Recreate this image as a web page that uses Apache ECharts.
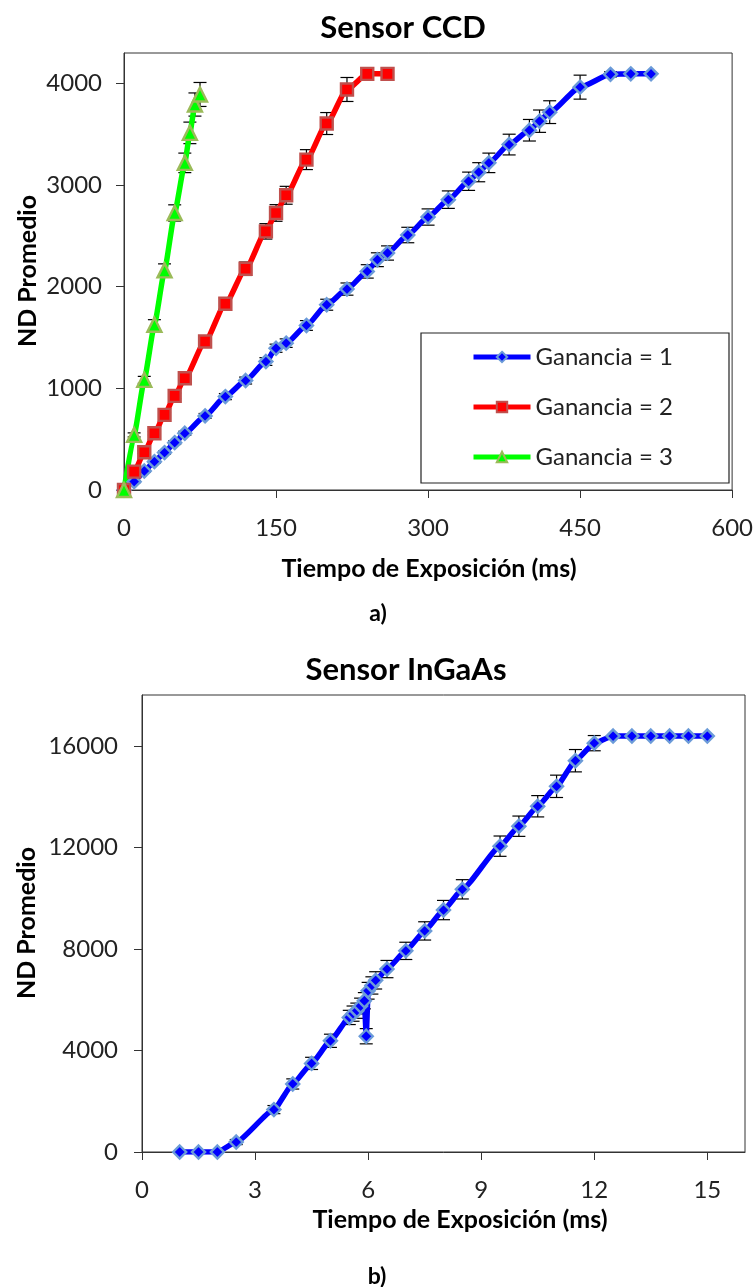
<!DOCTYPE html>
<html>
<head>
<meta charset="utf-8">
<script src="https://cdn.jsdelivr.net/npm/echarts/dist/echarts.min.js"></script>
<style>
html,body{margin:0;padding:0;background:#fff;}
#chart{width:756px;height:1287px;}
</style>
</head>
<body>
<div id="chart"></div>
<script>
// ---------- Sensor CCD data ----------
const ccdX1   = [0,10,20,30,40,50,60,80,100,120,140,150,160,180,200,220,240,250,260,280,300,320,340,350,360,380,400,410,420,450,480,500,520];
const ccdY1   = [0,82,187,279,368,466,558,729,919,1077,1264,1395,1445,1619,1823,1977,2151,2266,2332,2509,2686,2857,3038,3127,3219,3399,3540,3629,3718,3964,4090,4095,4095];
const ccdErr1 = [0,10,12,14,16,18,20,24,30,34,38,40,42,48,54,60,66,68,70,76,80,86,90,94,96,102,106,110,112,118,25,0,0];

const ccdX2   = [0,10,20,30,40,50,60,80,100,120,140,150,160,180,200,220,240,260];
const ccdY2   = [0,181,371,558,739,926,1100,1461,1833,2177,2545,2726,2900,3251,3606,3941,4095,4095];
const ccdErr2 = [0,8,12,18,22,28,34,44,56,66,76,82,88,98,108,118,10,0];

const ccdX3   = [0,10,20,30,40,50,60,65,70,75];
const ccdY3   = [0,542,1084,1626,2161,2726,3219,3514,3793,3892];
const ccdErr3 = [0,20,34,50,64,80,96,106,114,118];

const ccdXTicks = [0,150,300,450,600];
const ccdYTicks = [0,1000,2000,3000,4000];

// ---------- Sensor InGaAs data ----------
const ingX   = [1,1.5,2,2.5,3.5,4,4.5,5,5.5,5.6,5.7,5.8,5.9,5.95,6,6.1,6.2,6.5,7,7.5,8,8.5,9.5,10,10.5,11,11.5,12,12.5,13,13.5,14,14.5,15];
const ingY   = [0,0,0,392,1670,2680,3490,4380,5300,5450,5565,5750,5958,4560,6351,6560,6760,7205,7922,8708,9529,10346,12046,12832,13618,14403,15412,16103,16383,16383,16383,16383,16383,16383];
const ingErr = [0,0,0,100,160,200,240,260,280,300,300,310,320,300,330,340,340,340,340,360,380,380,400,400,420,440,440,300,0,0,0,0,0,0];

const ingXTicks = [0,3,6,9,12,15];
const ingYTicks = [0,4000,8000,12000,16000];

const seriesNames = ['Ganancia = 1','Ganancia = 2','Ganancia = 3'];

function zip(xs, ys){ return xs.map((x,i)=>[x, ys[i]]); }
function zip3(xs, ys, es){ return xs.map((x,i)=>[x, ys[i], es[i]]); }

const FONT = 'Lato, "Open Sans", "Noto Sans", sans-serif';
const TXT = '#222';

function errRender(params, api){
  const x = api.value(0), y = api.value(1), e = api.value(2);
  if (!e) return null;
  const t = api.coord([x, y + e]), b = api.coord([x, y - e]);
  const hw = 6.5;
  const st = {stroke:'#000', lineWidth:1.2};
  return {type:'group', children:[
    {type:'line', shape:{x1:t[0], y1:t[1], x2:b[0], y2:b[1]}, style:st},
    {type:'line', shape:{x1:t[0]-hw, y1:t[1], x2:t[0]+hw, y2:t[1]}, style:st},
    {type:'line', shape:{x1:b[0]-hw, y1:b[1], x2:b[0]+hw, y2:b[1]}, style:st}
  ]};
}

function plain(v){ return String(v); }

function axisCommon(){
  return {
    type:'value',
    axisLine:{show:true, onZero:false, lineStyle:{color:'#333', width:1}},
    axisTick:{show:true, inside:false, length:8, lineStyle:{color:'#333', width:1}},
    splitLine:{show:false},
    axisLabel:{fontSize:24, fontFamily:FONT, color:TXT, formatter:plain}
  };
}

const xA0 = Object.assign(axisCommon(), {gridIndex:0, min:0, max:600, interval:150});
xA0.axisLabel = Object.assign({}, xA0.axisLabel, {margin:26});
const yA0 = Object.assign(axisCommon(), {gridIndex:0, min:0, max:4300});
yA0.axisTick = Object.assign({}, yA0.axisTick, {customValues:ccdYTicks});
yA0.axisLabel = Object.assign({}, yA0.axisLabel, {margin:22, customValues:ccdYTicks});

const xA1 = Object.assign(axisCommon(), {gridIndex:1, min:0, max:16});
xA1.axisTick = Object.assign({}, xA1.axisTick, {customValues:ingXTicks});
xA1.axisLabel = Object.assign({}, xA1.axisLabel, {margin:26, customValues:ingXTicks});
const yA1 = Object.assign(axisCommon(), {gridIndex:1, min:0, max:18000});
yA1.axisTick = Object.assign({}, yA1.axisTick, {customValues:ingYTicks});
yA1.axisLabel = Object.assign({}, yA1.axisLabel, {margin:24, customValues:ingYTicks});

function lineSeries(name, data, color, symbol, size, border, xi, smooth){
  return {
    name:name, type:'line', xAxisIndex:xi, yAxisIndex:xi, data:data,
    smooth:smooth, smoothMonotone:'x',
    symbol:symbol, symbolSize:size, showAllSymbol:true,
    lineStyle:{color:color, width:5.5},
    itemStyle:{color:color, borderColor:border, borderWidth:2.4},
    emphasis:{disabled:true}, animation:false, z:2
  };
}
function errSeries(data, xi){
  return {
    type:'custom', xAxisIndex:xi, yAxisIndex:xi, data:data,
    encode:{x:0, y:1}, renderItem:errRender, z:1, animation:false, silent:true
  };
}

const option = {
  animation:false,
  backgroundColor:'#fff',
  grid:[
    {left:124, top:53, width:609, height:437, show:true, borderColor:'#333', borderWidth:1, backgroundColor:'transparent'},
    {left:142, top:695, width:603, height:457, show:true, borderColor:'#333', borderWidth:1, backgroundColor:'transparent'}
  ],
  xAxis:[xA0, xA1],
  yAxis:[yA0, yA1],
  legend:{
    data:seriesNames, orient:'vertical', left:471, top:345, padding:0,
    itemWidth:57, itemHeight:13, itemGap:26,
    lineStyle:{width:5},
    textStyle:{fontSize:24, fontFamily:FONT, color:TXT},
    selectedMode:false, z:10
  },
  graphic:[
    {type:'rect', shape:{x:421, y:333, width:308, height:150}, style:{fill:'#fff', stroke:'#222', lineWidth:1.2}, z:5, silent:true},
    {type:'text', x:403, y:28, style:{text:'Sensor CCD', font:'bold 31px '+FONT, fill:'#000', textAlign:'center', textVerticalAlign:'middle'}},
    {type:'text', x:28, y:271, rotation:Math.PI/2, style:{text:'ND Promedio', font:'bold 25px '+FONT, fill:'#000', textAlign:'center', textVerticalAlign:'middle'}},
    {type:'text', x:429, y:569, style:{text:'Tiempo de Exposición (ms)', font:'bold 25px '+FONT, fill:'#000', textAlign:'center', textVerticalAlign:'middle'}},
    {type:'text', x:378, y:614, style:{text:'a)', font:'bold 23px '+FONT, fill:'#000', textAlign:'center', textVerticalAlign:'middle'}},
    {type:'text', x:406, y:670, style:{text:'Sensor InGaAs', font:'bold 31px '+FONT, fill:'#000', textAlign:'center', textVerticalAlign:'middle'}},
    {type:'text', x:27, y:923, rotation:Math.PI/2, style:{text:'ND Promedio', font:'bold 25px '+FONT, fill:'#000', textAlign:'center', textVerticalAlign:'middle'}},
    {type:'text', x:460, y:1220, style:{text:'Tiempo de Exposición (ms)', font:'bold 25px '+FONT, fill:'#000', textAlign:'center', textVerticalAlign:'middle'}},
    {type:'text', x:377, y:1277, style:{text:'b)', font:'bold 23px '+FONT, fill:'#000', textAlign:'center', textVerticalAlign:'middle'}}
  ],
  series:[
    lineSeries(seriesNames[0], zip(ccdX1, ccdY1), '#0000ff', 'diamond', 13, '#6b9bd8', 0, 0.2),
    lineSeries(seriesNames[1], zip(ccdX2, ccdY2), '#ff0000', 'rect', 12, '#c0504d', 0, 0.2),
    lineSeries(seriesNames[2], zip(ccdX3, ccdY3), '#00ff00', 'triangle', 14, '#9bbb59', 0, 0.15),
    errSeries(zip3(ccdX1, ccdY1, ccdErr1), 0),
    errSeries(zip3(ccdX2, ccdY2, ccdErr2), 0),
    errSeries(zip3(ccdX3, ccdY3, ccdErr3), 0),
    lineSeries('InGaAs', zip(ingX, ingY), '#0000ff', 'diamond', 13, '#6b9bd8', 1, 0.15),
    errSeries(zip3(ingX, ingY, ingErr), 1)
  ]
};

const chart = echarts.init(document.getElementById('chart'), null, {renderer:'canvas'});
chart.setOption(option);
</script>
</body>
</html>
